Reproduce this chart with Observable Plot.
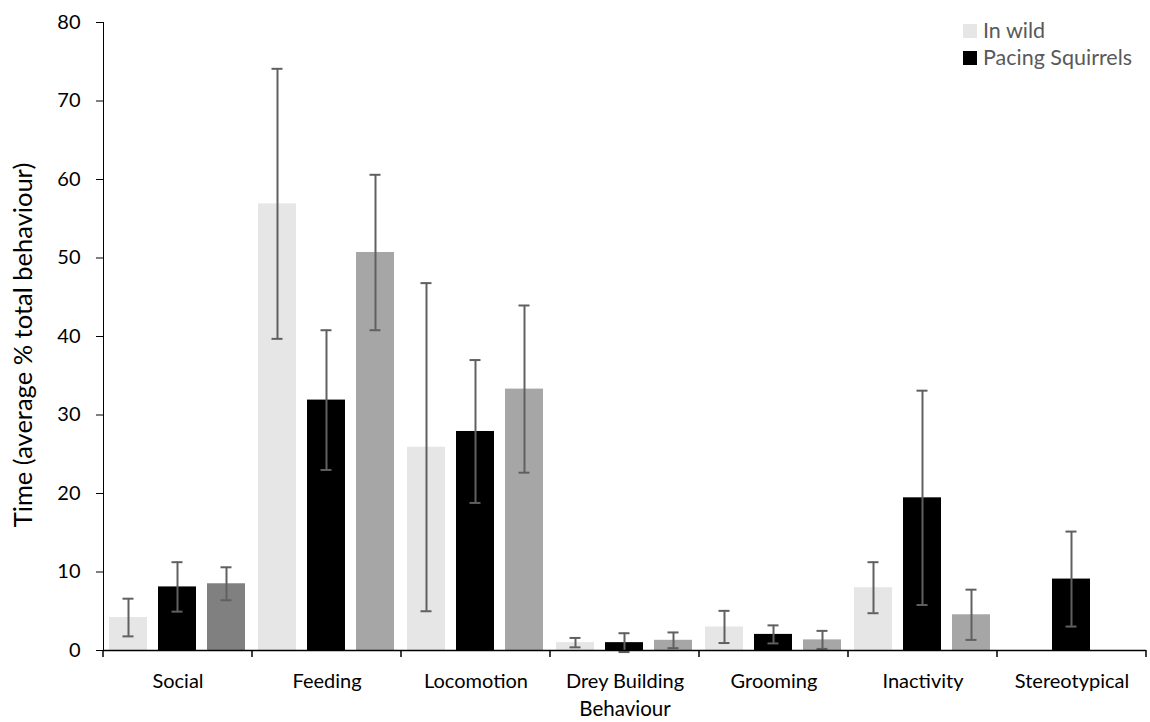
<!DOCTYPE html>
<html><head><meta charset="utf-8">
<script src="https://cdn.jsdelivr.net/npm/d3@7"></script>
<script src="https://cdn.jsdelivr.net/npm/@observablehq/plot@0.6"></script>
<style>
body{margin:0;background:#fff;font-family:Lato,sans-serif;}
#wrap{position:relative;width:1150px;height:722px;}
#legend{position:absolute;left:963px;top:17px;font-size:21.5px;color:#595959;line-height:27px;}
#legend .it{display:flex;align-items:center;white-space:nowrap;}
#legend .sw{width:14px;height:14px;margin-right:6px;display:inline-block;}
#ytitle{position:absolute;left:22px;top:345px;transform:translate(-50%,-50%) rotate(-90deg);font-size:25.5px;white-space:nowrap;color:#000;}
#xtitle{position:absolute;left:625px;top:708px;transform:translate(-50%,-50%);font-size:20.5px;white-space:nowrap;color:#000;}
</style></head><body>
<div id="wrap"><div id="legend"></div><div id="ytitle"></div><div id="xtitle"></div></div>
<script>
// ---- data ----
const categories = ["Social","Feeding","Locomotion","Drey Building","Grooming","Inactivity","Stereotypical"];
const seriesKeys = ["In wild","Pacing Squirrels","Series 3"];
const legendLabels = ["In wild","Pacing Squirrels"];
const xTitle = "Behaviour";
const yTitle = "Time (average % total behaviour)";
const wildValues   = [4.2, 56.9, 25.9, 1.0, 3.0, 8.0, 0];
const wildErrors   = [2.4, 17.2, 20.9, 0.6, 2.05, 3.25, 0];
const pacingValues = [8.1, 31.9, 27.9, 1.0, 2.05, 19.45, 9.1];
const pacingErrors = [3.15, 8.9, 9.1, 1.2, 1.15, 13.65, 6.05];
const thirdValues  = [8.5, 50.7, 33.3, 1.3, 1.35, 4.55, 0];
const thirdErrors  = [2.1, 9.9, 10.65, 1.0, 1.15, 3.2, 0];
const yTicks = [0,10,20,30,40,50,60,70,80];

// ---- styles ----
const seriesColors = {"In wild":"#e6e6e6","Pacing Squirrels":"#000000","Series 3":"#a6a6a6"};
const socialThirdColor = "#808080";
const errColor = "#606060";

const valueSets = [wildValues, pacingValues, thirdValues];
const errorSets = [wildErrors, pacingErrors, thirdErrors];
const rows = [];
categories.forEach((c, i) => seriesKeys.forEach((s, k) => {
  rows.push({cat: c, series: s, k, value: valueSets[k][i], err: errorSets[k][i]});
}));
const errRows = rows.filter(d => d.err > 0);
const fillOf = d => (d.cat === "Social" && d.k === 2) ? socialThirdColor : seriesColors[d.series];

const chart = Plot.plot({
  width: 1150,
  height: 722,
  marginLeft: 100,
  marginRight: 2,
  marginTop: 22,
  marginBottom: 72,
  style: {fontFamily: "Lato, sans-serif", fontSize: "20px", color: "#000", background: "#fff", overflow: "visible"},
  fx: {domain: categories, padding: 0, axis: "bottom", tickSize: 0, tickPadding: 23, label: null},
  x: {domain: seriesKeys, paddingInner: 0.22, paddingOuter: 0.11, axis: null},
  y: {domain: [0, 80], ticks: yTicks, tickSize: 7, tickPadding: 16, line: true, label: null},
  marks: [
    Plot.barY(rows, {fx: "cat", x: "series", y: "value", fill: fillOf}),
    Plot.ruleX(errRows, {fx: "cat", x: "series", y1: d => d.value - d.err, y2: d => d.value + d.err, stroke: errColor, strokeWidth: 2}),
    Plot.tickY(errRows, {fx: "cat", x: "series", y: d => d.value + d.err, stroke: errColor, strokeWidth: 2, insetLeft: 13.5, insetRight: 13.5}),
    Plot.tickY(errRows, {fx: "cat", x: "series", y: d => d.value - d.err, stroke: errColor, strokeWidth: 2, insetLeft: 13.5, insetRight: 13.5}),
    Plot.ruleY([0], {stroke: "#000", strokeWidth: 1.5})
  ]
});

// category boundary ticks drawn from the plot's own fx / y scales
const fx = chart.scale("fx"), ys = chart.scale("y");
const y0 = ys.apply(0);
const bounds = categories.map(c => fx.apply(c)).concat([fx.apply(categories[categories.length-1]) + fx.bandwidth]);
const svg = d3.select(chart.tagName === "svg" ? chart : chart.querySelector("svg"));
svg.append("g").selectAll("line").data(bounds).join("line")
  .attr("x1", d => d).attr("x2", d => d).attr("y1", y0).attr("y2", y0 + 7)
  .attr("stroke", "#000").attr("stroke-width", 1.5);

document.getElementById("wrap").prepend(chart);
document.getElementById("ytitle").textContent = yTitle;
document.getElementById("xtitle").textContent = xTitle;

const leg = document.getElementById("legend");
legendLabels.forEach(l => {
  const it = document.createElement("div"); it.className = "it";
  const sw = document.createElement("span"); sw.className = "sw"; sw.style.background = seriesColors[l];
  it.appendChild(sw); it.appendChild(document.createTextNode(l));
  leg.appendChild(it);
});
</script>
</body></html>
